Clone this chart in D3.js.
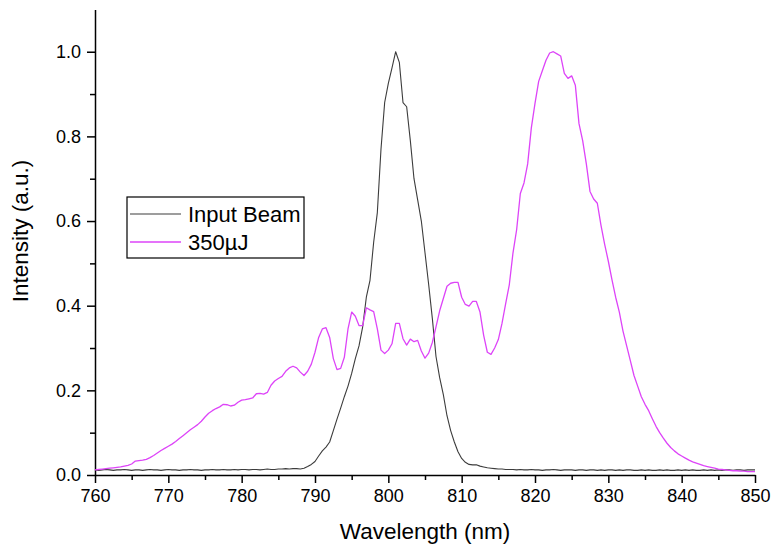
<!DOCTYPE html>
<html>
<head>
<meta charset="utf-8">
<script src="https://cdnjs.cloudflare.com/ajax/libs/d3/7.8.5/d3.min.js"></script>
<style>
  body { margin: 0; background: #fff; }
  svg { font-family: "Liberation Sans", Arial, sans-serif; }
</style>
</head>
<body>
<svg id="chart" width="772" height="548"></svg>
<script>
// sampling grid: 760..850 nm, every 0.5 nm (181 points)
var wlStart = 760, wlStep = 0.5, wlCount = 181

// Input Beam, one row = 5 nm
var inputBeam = [
  0.012,0.011,0.012,0.013,0.012,0.011,0.012,0.012,0.013,0.012,
  0.011,0.012,0.012,0.011,0.012,0.013,0.012,0.012,0.011,0.012,
  0.013,0.012,0.012,0.011,0.012,0.012,0.013,0.012,0.012,0.011,
  0.012,0.012,0.013,0.012,0.012,0.013,0.012,0.012,0.013,0.012,
  0.013,0.013,0.012,0.013,0.013,0.012,0.013,0.014,0.013,0.013,
  0.014,0.014,0.015,0.014,0.015,0.015,0.014,0.016,0.020,0.025,
  0.032,0.045,0.057,0.066,0.078,0.105,0.132,0.158,0.185,0.210,
  0.240,0.275,0.305,0.350,0.420,0.460,0.550,0.620,0.770,0.880,
  0.925,0.962,1.000,0.975,0.880,0.870,0.790,0.700,0.650,0.600,
  0.525,0.450,0.370,0.280,0.230,0.190,0.140,0.105,0.078,0.055,
  0.039,0.030,0.025,0.024,0.024,0.021,0.019,0.017,0.016,0.015,
  0.014,0.014,0.013,0.013,0.013,0.012,0.013,0.012,0.012,0.013,
  0.012,0.012,0.011,0.012,0.012,0.013,0.012,0.011,0.012,0.012,
  0.012,0.011,0.012,0.012,0.011,0.012,0.012,0.011,0.012,0.011,
  0.012,0.012,0.011,0.012,0.011,0.012,0.012,0.011,0.011,0.012,
  0.011,0.012,0.011,0.011,0.012,0.011,0.012,0.011,0.011,0.012,
  0.011,0.012,0.011,0.012,0.011,0.011,0.012,0.011,0.012,0.011,
  0.012,0.011,0.012,0.012,0.011,0.012,0.012,0.011,0.012,0.012,
  0.012
]

// 350µJ
var pulse350 = [
  0.012,0.013,0.014,0.015,0.016,0.017,0.018,0.019,0.021,0.023,
  0.026,0.033,0.034,0.035,0.037,0.041,0.046,0.052,0.058,0.063,
  0.068,0.073,0.079,0.086,0.093,0.100,0.107,0.113,0.119,0.127,
  0.137,0.146,0.152,0.157,0.161,0.167,0.166,0.163,0.165,0.172,
  0.177,0.178,0.180,0.182,0.192,0.193,0.191,0.195,0.212,0.222,
  0.228,0.233,0.245,0.253,0.257,0.253,0.243,0.235,0.245,0.262,
  0.290,0.325,0.345,0.348,0.325,0.275,0.249,0.252,0.278,0.345,
  0.385,0.375,0.353,0.353,0.395,0.390,0.386,0.345,0.295,0.287,
  0.295,0.310,0.358,0.358,0.322,0.307,0.321,0.315,0.318,0.293,
  0.276,0.288,0.313,0.350,0.388,0.417,0.446,0.453,0.455,0.455,
  0.420,0.403,0.399,0.410,0.410,0.385,0.330,0.290,0.285,0.300,
  0.320,0.358,0.405,0.450,0.525,0.580,0.665,0.690,0.735,0.820,
  0.878,0.930,0.955,0.980,0.997,1.000,0.995,0.990,0.949,0.937,
  0.943,0.921,0.830,0.790,0.735,0.670,0.652,0.642,0.590,0.545,
  0.505,0.461,0.420,0.385,0.340,0.305,0.270,0.235,0.210,0.185,
  0.167,0.152,0.133,0.115,0.100,0.087,0.075,0.065,0.057,0.050,
  0.045,0.040,0.035,0.031,0.028,0.025,0.022,0.020,0.018,0.016,
  0.014,0.013,0.012,0.011,0.010,0.010,0.009,0.009,0.008,0.008,
  0.008
]

var seriesNames = ["Input Beam", "350µJ"]
var seriesColors = ["#3c3c3c", "#dd44f8"]

var xTicks = [760, 770, 780, 790, 800, 810, 820, 830, 840, 850]
var yTicks = [0.0, 0.2, 0.4, 0.6, 0.8, 1.0]

var svg = d3.select("#chart")

var x = d3.scaleLinear().domain([760, 850]).range([95, 755])
var y = d3.scaleLinear().domain([0, 1.1]).range([475, 9.4])

var wavelengths = d3.range(wlCount).map(function(i) { return wlStart + i * wlStep })

// minor ticks first so the major ones sit on top
svg.append("g")
  .attr("transform", "translate(0,475)")
  .call(d3.axisBottom(x).tickValues(d3.range(765, 850, 10)).tickSize(5).tickFormat(""))
  .call(function(g) { g.select(".domain").remove() })

svg.append("g")
  .attr("transform", "translate(95,0)")
  .call(d3.axisLeft(y).tickValues(d3.range(0.1, 1.0, 0.2)).tickSize(5).tickFormat(""))
  .call(function(g) { g.select(".domain").remove() })

var xAxis = svg.append("g")
  .attr("class", "axis axis--x")
  .attr("transform", "translate(0,475)")
  .call(d3.axisBottom(x).tickValues(xTicks).tickSize(8).tickSizeOuter(0).tickPadding(6).tickFormat(d3.format("d")))

var yAxis = svg.append("g")
  .attr("class", "axis axis--y")
  .attr("transform", "translate(95,0)")
  .call(d3.axisLeft(y).tickValues(yTicks).tickSize(8).tickSizeOuter(0).tickPadding(6).tickFormat(d3.format(".1f")))

svg.selectAll(".tick line").attr("stroke", "#000").attr("stroke-width", 1.5)
svg.selectAll(".domain").attr("stroke", "#000").attr("stroke-width", 1.5)
svg.selectAll(".axis text").attr("font-size", 18).attr("fill", "#000")
  .attr("font-family", "'Liberation Sans', Arial, sans-serif")

// axis titles
svg.append("text")
  .attr("x", 425).attr("y", 539)
  .attr("text-anchor", "middle")
  .attr("font-size", 22.5)
  .text("Wavelength (nm)")

svg.append("text")
  .attr("transform", "translate(28,231) rotate(-90)")
  .attr("text-anchor", "middle")
  .attr("font-size", 22.5)
  .text("Intensity (a.u.)")

var line = d3.line()
  .x(function(d) { return x(d[0]) })
  .y(function(d) { return y(d[1]) })

var allSeries = [inputBeam, pulse350]

allSeries.forEach(function(vals, i) {
  svg.append("path")
    .datum(wavelengths.map(function(w, j) { return [w, vals[j]] }))
    .attr("fill", "none")
    .attr("stroke", seriesColors[i])
    .attr("stroke-width", i == 0 ? 1.1 : 1.3)
    .attr("stroke-linejoin", "round")
    .attr("d", line)
})

// legend
var legend = svg.append("g").attr("transform", "translate(127,197)")

legend.append("rect")
  .attr("width", 177).attr("height", 61)
  .attr("fill", "#fff").attr("stroke", "#000").attr("stroke-width", 1.2)

seriesNames.forEach(function(name, i) {
  var ly = 17 + i * 28
  legend.append("line")
    .attr("x1", 3).attr("x2", 54)
    .attr("y1", ly).attr("y2", ly)
    .attr("stroke", seriesColors[i])
    .attr("stroke-width", i == 0 ? 1.1 : 1.3)
  legend.append("text")
    .attr("x", 61).attr("y", ly + 8)
    .attr("font-size", 22)
    .text(name)
})
</script>
</body>
</html>
